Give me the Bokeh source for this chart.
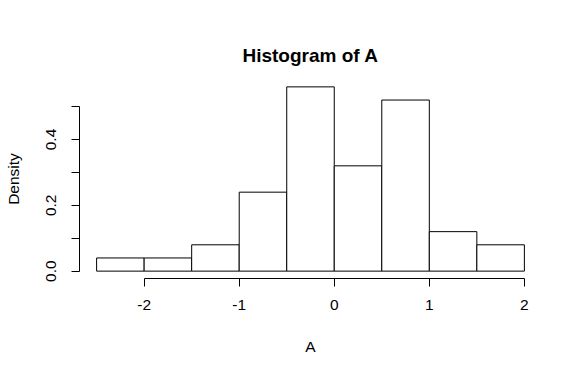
from bokeh.plotting import figure
from bokeh.models import FixedTicker, PrintfTickFormatter, Range1d
from bokeh.embed import file_html
from bokeh.resources import INLINE

# Histogram of A: bin edges and densities
bin_left = [-2.5, -2.0, -1.5, -1.0, -0.5, 0.0, 0.5, 1.0, 1.5]
bin_right = [-2.0, -1.5, -1.0, -0.5, 0.0, 0.5, 1.0, 1.5, 2.0]
density = [0.04, 0.04, 0.08, 0.24, 0.56, 0.32, 0.52, 0.12, 0.08]
x_ticks = [-2, -1, 0, 1, 2]
y_major = [0.0, 0.2, 0.4]
y_minor = [0.1, 0.3, 0.5]

FONT = "Liberation Sans"

p = figure(width=581, height=377, output_backend="svg", toolbar_location=None,
           x_range=Range1d(-2.68, 2.18), y_range=Range1d(-0.0224, 0.5824),
           min_border_left=79, min_border_right=40, min_border_top=79, min_border_bottom=99,
           title="Histogram of A")
p.outline_line_color = None
p.xgrid.visible = False
p.ygrid.visible = False
p.background_fill_color = "white"
p.border_fill_color = "white"

p.quad(left=bin_left, right=bin_right, top=density, bottom=0,
       fill_color="white", line_color="black", line_width=1)

p.title.text_font = FONT
p.title.text_font_size = "19px"
p.title.text_font_style = "bold"
p.title.align = "center"
p.title.text_color = "black"
p.title.standoff = 28

xa = p.xaxis[0]
xa.ticker = FixedTicker(ticks=x_ticks, minor_ticks=[])
xa.formatter = PrintfTickFormatter(format="%d")
xa.bounds = (-2, 2)
xa.axis_label = "A"
ya = p.yaxis[0]
ya.ticker = FixedTicker(ticks=y_major, minor_ticks=y_minor)
ya.bounds = (0, 0.5)
ya.formatter = PrintfTickFormatter(format="%.1f")
ya.axis_label = "Density"
ya.major_label_orientation = "vertical"

for ax in (xa, ya):
    ax.axis_line_color = "black"
    ax.major_tick_line_color = "black"
    ax.minor_tick_line_color = "black"
    ax.major_tick_out = 8
    ax.major_tick_in = 0
    ax.minor_tick_out = 8
    ax.minor_tick_in = 0
    ax.major_label_text_font = FONT
    ax.major_label_text_font_size = "15.5px"
    ax.major_label_text_color = "black"
    ax.axis_label_text_font = FONT
    ax.axis_label_text_font_size = "15.5px"
    ax.axis_label_text_font_style = "normal"
    ax.axis_label_text_color = "black"

xa.major_label_standoff = 13
xa.axis_label_standoff = 25
ya.major_label_standoff = 15
ya.axis_label_standoff = 22

open("out.html", "w").write(file_html(p, INLINE))
